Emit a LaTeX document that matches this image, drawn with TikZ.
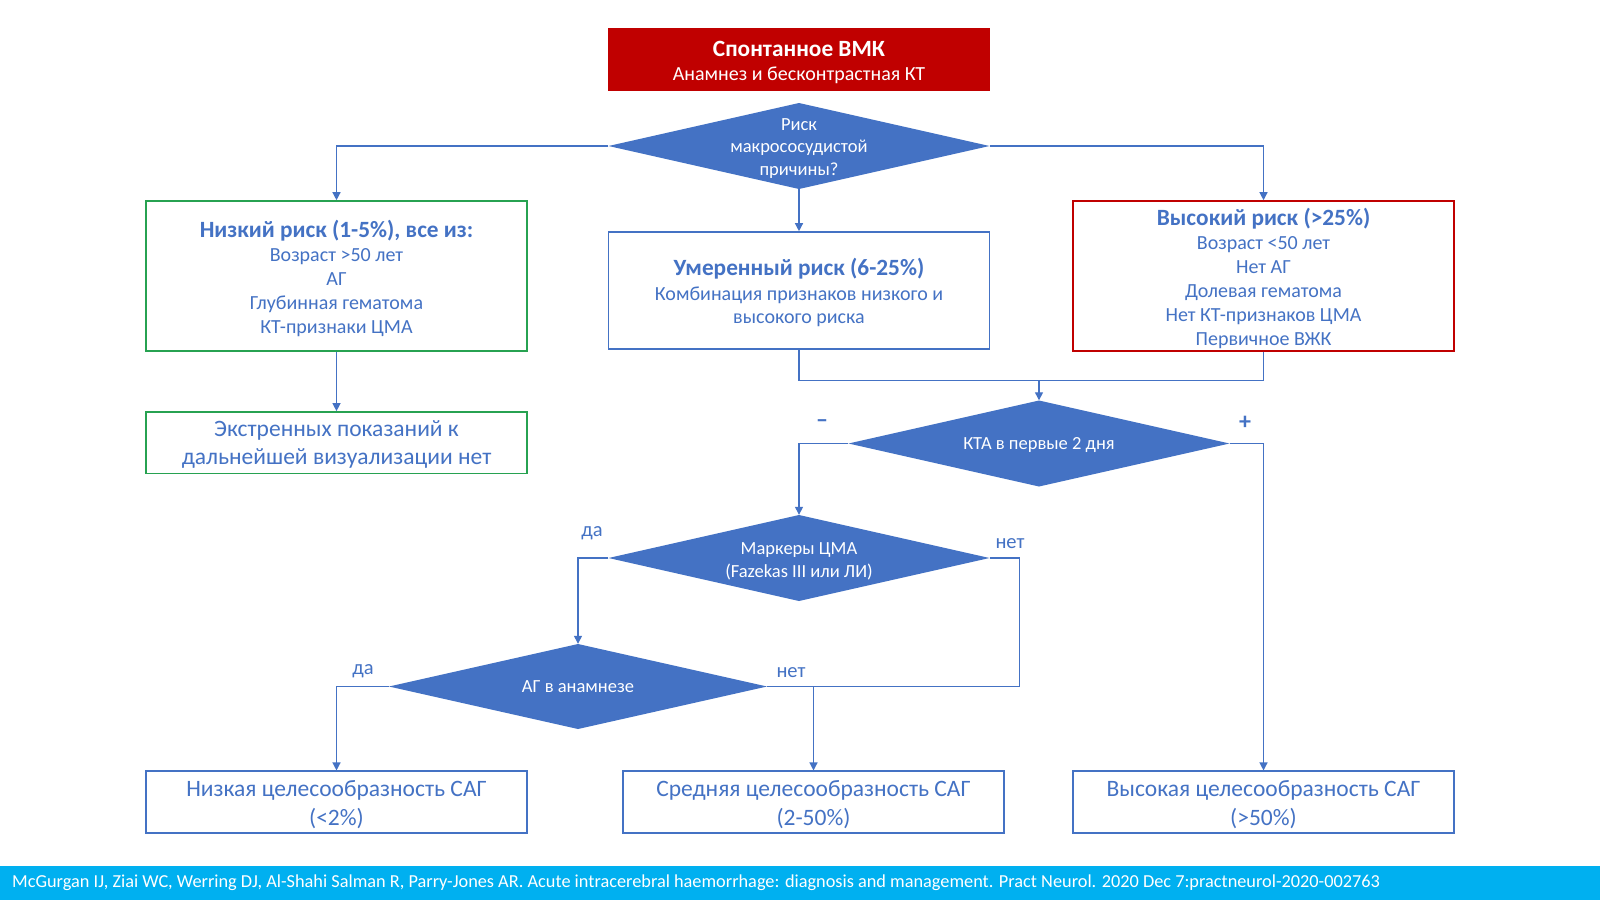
\documentclass[tikz,border=0pt]{standalone}
\usepackage{fontspec}
\setmainfont{Carlito}
\usetikzlibrary{arrows.meta}
\definecolor{obl}{HTML}{4472C4}
\definecolor{ored}{HTML}{C00000}
\definecolor{ogr}{HTML}{27A251}
\definecolor{ocy}{HTML}{00B0F0}
\tikzset{
  box/.style={draw=obl,line width=1.6pt,fill=white,minimum width=381pt,inner sep=0pt},
  btxt/.style={align=center,text=obl,inner sep=0pt},
  wtxt/.style={align=center,text=white,inner sep=0pt},
  dec/.style={rectangle,minimum width=381pt,minimum height=86pt,inner sep=0pt,
    path picture={\fill[obl] (path picture bounding box.north) -- (path picture bounding box.east) -- (path picture bounding box.south) -- (path picture bounding box.west) -- cycle;}},
  dtxt/.style={wtxt,font=\fontsize{18.5}{22.8}\selectfont},
  conn/.style={draw=obl,line width=1.3pt},
  arr/.style={conn,-{Triangle[width=8pt,length=8pt]}},
  lbl/.style={text=obl,font=\fontsize{20.5}{24}\selectfont,inner sep=0pt}
}
\begin{document}
\begin{tikzpicture}[x=1pt,y=-1pt]
\useasboundingbox (0,0) rectangle (1600,900);
\fill[white] (0,0) rectangle (1600,900);
% top
\node[fill=ored,minimum width=382pt,minimum height=63.5pt,inner sep=0pt,
  label={[wtxt,yshift=-3pt,font=\fontsize{20}{25.5}\selectfont]center:{{\bfseries\fontsize{23.3}{25.5}\selectfont Спонтанное ВМК}\\[-2pt]Анамнез и бесконтрастная КТ}}] (top) at (799,59.3) {};
\node[dec,label={[dtxt,yshift=-2.5pt]center:{Риск\\макрососудистой\\причины?}}] (d1) at (799,146) {};
% risk boxes
\node[box,draw=ogr,minimum height=150pt,
  label={[btxt,yshift=-2.5pt,font=\fontsize{20}{24}\selectfont]center:{{\bfseries\fontsize{23.3}{24}\selectfont Низкий риск (1-5\%), все из:}\\[0.5pt]Возраст >50 лет\\АГ\\Глубинная гематома\\КТ-признаки ЦМА}}] (low) at (336.5,276) {};
\node[box,minimum height=117pt,
  label={[btxt,yshift=-1.8pt,font=\fontsize{20}{23}\selectfont]center:{{\bfseries\fontsize{23.3}{23}\selectfont Умеренный риск (6-25\%)}\\[2.5pt]Комбинация признаков низкого и\\высокого риска}}] (mod) at (799,290.5) {};
\node[box,draw=ored,minimum height=150pt,
  label={[btxt,yshift=-2pt,font=\fontsize{20}{24}\selectfont]center:{{\bfseries\fontsize{23.3}{24}\selectfont Высокий риск (>25\%)}\\Возраст <50 лет\\Нет АГ\\Долевая гематома\\Нет КТ-признаков ЦМА\\Первичное ВЖК}}] (high) at (1263.5,276) {};
\node[box,draw=ogr,minimum height=61.5pt,
  label={[btxt,yshift=-2pt,font=\fontsize{23.5}{28.5}\selectfont]center:{Экстренных показаний к\\дальнейшей визуализации нет}}] (lowres) at (336.5,442.7) {};
% decisions
\node[dec,label={[dtxt,yshift=-2pt]center:{КТА в первые 2 дня}}] (d2) at (1039,443.5) {};
\node[dec,label={[dtxt,yshift=-3.5pt]center:{Маркеры ЦМА\\(Fazekas III или ЛИ)}}] (d3) at (799,558) {};
\node[dec,minimum width=378pt,minimum height=85pt,label={[dtxt]center:{АГ в анамнезе}}] (d4) at (578,686.5) {};
% results
\node[box,minimum height=61.5pt,
  label={[btxt,yshift=-2.5pt,font=\fontsize{23.5}{28.5}\selectfont]center:{Низкая целесообразность САГ\\(<2\%)}}] (sagL) at (336.5,802) {};
\node[box,minimum height=61.5pt,
  label={[btxt,yshift=-2.5pt,font=\fontsize{23.5}{28.5}\selectfont]center:{Средняя целесообразность САГ\\(2-50\%)}}] (sagM) at (813.5,802) {};
\node[box,minimum height=61.5pt,
  label={[btxt,yshift=-2.5pt,font=\fontsize{23.5}{28.5}\selectfont]center:{Высокая целесообразность САГ\\(>50\%)}}] (sagH) at (1263.5,802) {};
% connectors
\draw[arr] (d1.west) -| (low.north);
\draw[arr] (d1.east) -| (high.north);
\draw[arr] (d1.south) -- (mod.north);
\draw[arr] (low.south) -- (lowres.north);
\coordinate (j1) at (d2.north |- 0,380.5);
\draw[conn] (mod.south) |- (j1) -| (high.south);
\draw[arr] (j1) -- (d2.north);
\draw[arr] (d2.west) -| (d3.north);
\draw[arr] (d2.east) -| (sagH.north);
\draw[arr] (d3.west) -| (d4.north);
\coordinate (r3) at (1019.5,558);
\draw[conn] (d3.east) -- (r3) |- (d4.east);
\coordinate (j2) at (sagM.north |- d4.east);
\draw[arr] (j2) -- (sagM.north);
\draw[arr] (d4.west) -| (sagL.north);
% labels
\node[lbl,font=\fontsize{24}{24}\selectfont\bfseries] (lm) at (822,424) {–};
\node[lbl,font=\fontsize{24}{24}\selectfont\bfseries] (lp) at (1245,423) {+};
\node[lbl] (l1) at (592,533) {да};
\node[lbl] (l2) at (1010,544) {нет};
\node[lbl] (l3) at (363,671.5) {да};
\node[lbl] (l4) at (791,673) {нет};
% footer
\fill[ocy] (0,865.5) rectangle (1600,900);
\node[anchor=west,text=white,inner sep=0pt,font=\fontsize{18.3}{20}\selectfont] (foot) at (12,883)
 {McGurgan IJ, Ziai WC, Werring DJ, Al-Shahi Salman R, Parry-Jones AR. Acute intracerebral haemorrhage: diagnosis and management. Pract Neurol. 2020 Dec 7:practneurol-2020-002763};
\end{tikzpicture}
\end{document}
